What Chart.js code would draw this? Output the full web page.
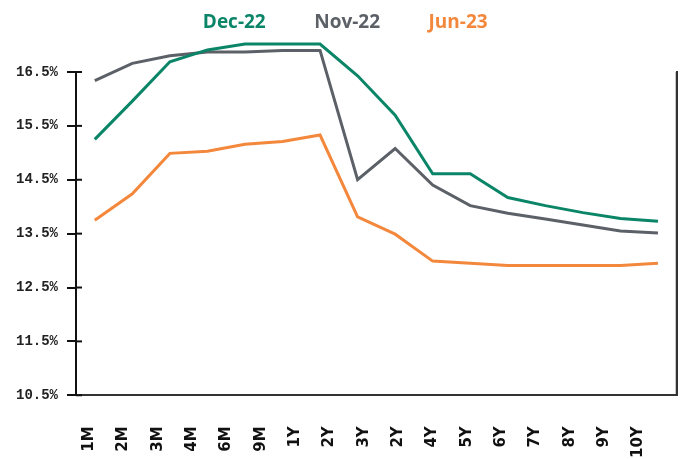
<!DOCTYPE html>
<html>
<head>
<meta charset="utf-8">
<script src="https://cdn.jsdelivr.net/npm/chart.js@4.4.1/dist/chart.umd.min.js"></script>
<style>
  html, body { margin: 0; padding: 0; background: #fff; }
  #wrap { width: 688px; height: 459px; }
</style>
</head>
<body>
<div id="wrap"><canvas id="curveChart"></canvas></div>
<script>
// Tenors the curves are plotted on
const tenors = ['1M', '2M', '3M', '4M', '6M', '9M', '1Y', '2Y', '3Y', '4Y', '5Y', '6Y', '7Y', '8Y', '9Y', '10Y'];
// Axis labels as printed on the original (17 of them, 2Y appears twice)
const tickLabels = ['1M', '2M', '3M', '4M', '6M', '9M', '1Y', '2Y', '3Y', '2Y', '4Y', '5Y', '6Y', '7Y', '8Y', '9Y', '10Y'];

const dec22 = [15.25, 15.96, 16.69, 16.91, 17.02, 17.02, 17.02, 16.43, 15.70, 14.61, 14.61, 14.17, 14.02, 13.89, 13.78, 13.73];
const nov22 = [16.34, 16.66, 16.80, 16.87, 16.87, 16.90, 16.90, 14.50, 15.08, 14.40, 14.02, 13.88, 13.77, 13.66, 13.55, 13.51];
const jun23 = [13.75, 14.24, 14.99, 15.03, 15.16, 15.21, 15.33, 13.81, 13.49, 12.99, 12.95, 12.91, 12.91, 12.91, 12.91, 12.95];

const GREEN = '#0b8567';
const GREY = '#5c6168';
const ORANGE = '#f3883d';

// y axis ticks stick out on both sides of the axis line, plus the right frame line
const axisExtras = {
    id: 'axisExtras',
    afterDraw(chart) {
        const { ctx, chartArea, scales: { y } } = chart;
        ctx.save();
        ctx.strokeStyle = '#111';
        ctx.lineWidth = 2;
        y.ticks.forEach((t, i) => {
            const py = y.getPixelForTick(i);
            ctx.beginPath();
            ctx.moveTo(y.right, py);
            ctx.lineTo(y.right + 6, py);
            ctx.stroke();
        });
        ctx.strokeStyle = '#333';
        ctx.beginPath();
        ctx.moveTo(chartArea.right, chartArea.top);
        ctx.lineTo(chartArea.right, chartArea.bottom);
        ctx.stroke();
        ctx.restore();
    }
};

// leave room between legend and plot, nudge the legend row a bit left
const legendRoom = {
    id: 'legendRoom',
    beforeInit(chart) {
        const fit = chart.legend.fit;
        chart.legend.fit = function () {
            fit.call(this);
            this.height = 98;
            this.lineWidths[0] += 28;
        };
    }
};

const line = (label, data, color) => ({
    label,
    data,
    borderColor: color,
    backgroundColor: color,
    borderWidth: 3,
    pointRadius: 0,
    tension: 0,
    clip: false,
    xAxisID: 'x',
    yAxisID: 'y'
});

new Chart(document.getElementById('curveChart'), {
    type: 'line',
    data: {
        labels: tenors,
        datasets: [
            line('Dec-22', dec22, GREEN),
            line('Nov-22', nov22, GREY),
            line('Jun-23', jun23, ORANGE)
        ]
    },
    options: {
        responsive: true,
        maintainAspectRatio: false,
        animation: false,
        layout: { padding: { top: -26, left: 7, right: -14, bottom: -30 } },
        scales: {
            x: { type: 'category', offset: true, display: false },
            xl: {
                type: 'linear',
                position: 'bottom',
                min: -0.377,
                max: 17.12,
                afterBuildTicks: (axis) => {
                    axis.ticks = tickLabels.map((_, i) => ({ value: i }));
                },
                ticks: {
                    autoSkip: false,
                    minRotation: 90,
                    maxRotation: 90,
                    padding: 31,
                    color: '#111',
                    font: { family: 'DejaVu Sans', weight: 'bold', size: 15 },
                    callback: (v) => tickLabels[v]
                },
                grid: { drawOnChartArea: false, drawTicks: false },
                border: { display: true, color: '#333', width: 2 }
            },
            y: {
                min: 10.5,
                max: 16.5,
                ticks: {
                    stepSize: 1,
                    padding: 9,
                    color: '#222',
                    font: { family: 'Liberation Mono', weight: 'bold', size: 14 },
                    callback: (v) => v.toFixed(1) + '%'
                },
                grid: { drawOnChartArea: false, tickLength: 9, color: '#111', lineWidth: 2 },
                border: { color: '#111', width: 2 }
            },
            yr: {
                position: 'right',
                min: 10.5,
                max: 16.5,
                ticks: { display: false },
                grid: { drawOnChartArea: false, drawTicks: false },
                border: { color: '#333', width: 2 }
            }
        },
        plugins: {
            tooltip: { enabled: false },
            legend: {
                position: 'top',
                labels: {
                    boxWidth: 0,
                    padding: 39,
                    font: { family: 'Open Sans', weight: 'bold', size: 19 },
                    generateLabels: (chart) => chart.data.datasets.map((ds, i) => ({
                        text: ds.label,
                        fontColor: ds.borderColor,
                        fillStyle: 'rgba(0,0,0,0)',
                        strokeStyle: 'rgba(0,0,0,0)',
                        lineWidth: 0,
                        hidden: false,
                        datasetIndex: i
                    }))
                }
            }
        }
    },
    plugins: [axisExtras, legendRoom]
});
</script>
</body>
</html>
